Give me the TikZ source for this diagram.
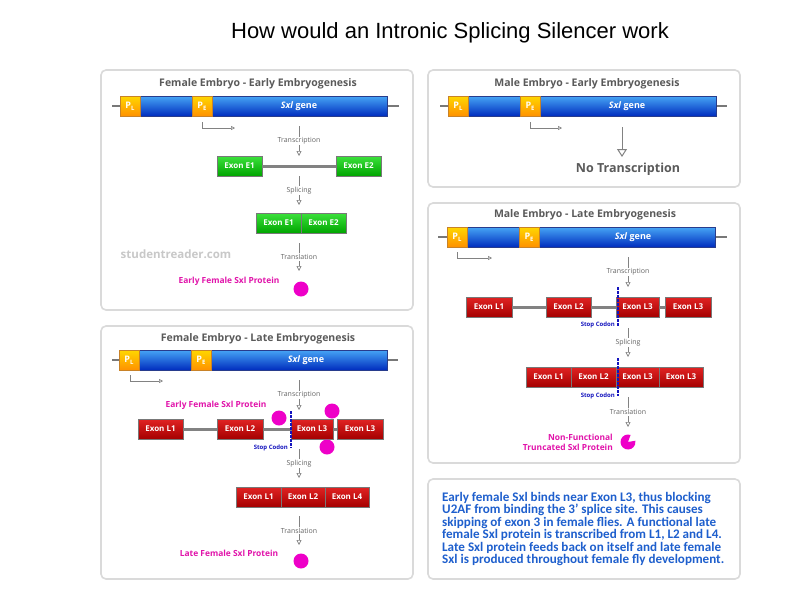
\documentclass[tikz,border=0pt]{standalone}
\usepackage{fontspec}
\setmainfont{Open Sans}
\newfontfamily\titlefont{Liberation Sans}
\newfontfamily\bodyfont{Carlito}
\usetikzlibrary{arrows.meta}
\definecolor{panelgray}{RGB}{218,218,218}
\definecolor{titlegray}{RGB}{90,90,90}
\definecolor{flowgray}{RGB}{130,130,130}
\definecolor{labgray}{RGB}{100,100,100}
\definecolor{bbgray}{RGB}{120,120,120}
\definecolor{intrgray}{RGB}{130,130,130}
\definecolor{barTop}{RGB}{70,165,245}
\definecolor{barBot}{RGB}{0,45,190}
\definecolor{barBorder}{RGB}{40,60,140}
\definecolor{yTop}{RGB}{255,215,0}
\definecolor{yBot}{RGB}{255,145,0}
\definecolor{yBorder}{RGB}{200,130,40}
\definecolor{gTop}{RGB}{60,225,60}
\definecolor{gBot}{RGB}{0,165,0}
\definecolor{rTop}{RGB}{225,35,35}
\definecolor{rBot}{RGB}{165,0,0}
\definecolor{exBorder}{RGB}{120,120,120}
\definecolor{prot}{RGB}{238,0,200}
\definecolor{protText}{RGB}{225,20,170}
\definecolor{stopblue}{RGB}{20,20,190}
\definecolor{wmgray}{RGB}{200,200,200}
\definecolor{bodyblue}{RGB}{30,95,205}
\begin{document}
\begin{tikzpicture}[x=1pt,y=-1pt,
  panel/.style={draw=panelgray, line width=1.6pt, rounded corners=5pt, fill=white},
  ptitle/.style={text=titlegray, font=\fontsize{10.5}{11}\selectfont\bfseries, inner sep=0pt},
  backbone/.style={draw=bbgray, line width=1.6pt},
  genebar/.style={draw=barBorder, line width=0.4pt, top color=barTop, bottom color=barBot, minimum height=20pt, inner sep=0pt},
  prombox/.style={draw=yBorder, line width=0.4pt, top color=yTop, bottom color=yBot, minimum width=20pt, minimum height=20pt, inner sep=0pt, text=white, font=\fontsize{9}{9}\selectfont\bfseries},
  genetext/.style={text=white, font=\fontsize{9}{9}\selectfont\bfseries, inner sep=0pt},
  promarrow/.style={draw=flowgray, line width=0.7pt, -{Triangle[open,length=4pt,width=4pt]}},
  flow/.style={draw=flowgray, line width=0.7pt, -{Triangle[open,length=5pt,width=5pt]}},
  bigflow/.style={draw=flowgray, line width=1pt, -{Triangle[open,length=8pt,width=10pt]}},
  lab/.style={fill=white, inner sep=1pt, text=labgray, font=\fontsize{7}{7}\selectfont},
  exon/.style={draw=exBorder, line width=0.5pt, minimum height=20pt, inner sep=0pt, text=white, font=\fontsize{8}{8}\selectfont\bfseries},
  gexon/.style={exon, top color=gTop, bottom color=gBot},
  rexon/.style={exon, top color=rTop, bottom color=rBot},
  intron/.style={draw=intrgray, line width=3pt},
  stopline/.style={draw=stopblue, line width=2.6pt, dash pattern=on 2.5pt off 1.5pt},
  stoptext/.style={text=stopblue, font=\fontsize{6}{6}\selectfont\bfseries, inner sep=0pt},
  protlab/.style={text=protText, font=\fontsize{8.4}{10}\selectfont\bfseries, inner sep=0pt},
  protein/.style={fill=prot, circle, minimum size=15pt, inner sep=0pt}
]
\useasboundingbox (0,0) rectangle (800,600);

% Title
\node[font=\titlefont\fontsize{22}{22}\selectfont, inner sep=0pt] (title) at (450,33) {How would an Intronic Splicing Silencer work};

% Panels
\draw[panel] (101,70) rectangle (413,310);
\draw[panel] (428,70) rectangle (740,187);
\draw[panel] (101,326) rectangle (413,579);
\draw[panel] (428,203) rectangle (740,463);
\draw[panel] (428,479) rectangle (740,579);

%% ---------- Panel 1: Female early
\node[ptitle] (t1) at (258,84) {Female Embryo - Early Embryogenesis};
\draw[backbone] (112,106) -- (399,106);
\node[genebar, minimum width=267pt] (g1) at (253.5,106) {};
\node[prombox] (pl1) at (130,106) {P\raisebox{-2pt}{\fontsize{6}{6}\selectfont L}};
\node[prombox] (pe1) at (202,106) {P\raisebox{-2pt}{\fontsize{6}{6}\selectfont E}};
\node[genetext] (gt1) at (299,106) {\textit{Sxl} gene};
\coordinate (pa1s) at (202,122);
\coordinate (pa1e) at (235,128);
\draw[promarrow] (pa1s) |- (pa1e);
\coordinate (f1a) at (299,126); \coordinate (f1b) at (299,156);
\draw[flow] (f1a) -- node[lab] (l1a) {Transcription} (f1b);
\node[gexon, minimum width=45pt] (e1) at (239.5,166) {Exon E1};
\node[gexon, minimum width=45pt] (e2) at (358.5,166) {Exon E2};
\draw[intron] (e1.east) -- (e2.west);
\coordinate (f2a) at (299,176); \coordinate (f2b) at (299,205);
\draw[flow] (f2a) -- node[lab] (l1b) {Splicing} (f2b);
\node[gexon, minimum width=45pt] (se1) at (278.5,223) {Exon E1};
\node[gexon, minimum width=45pt] (se2) at (323.5,223) {Exon E2};
\coordinate (f3a) at (299,243); \coordinate (f3b) at (299,271);
\draw[flow] (f3a) -- node[lab] (l1c) {Translation} (f3b);
\node[text=wmgray, font=\fontsize{11.5}{12}\selectfont\bfseries, inner sep=0pt] (wm) at (176,254) {studentreader.com};
\node[protlab] (pl1lab) at (229,281) {Early Female Sxl Protein};
\node[protein] (pr1) at (301,289) {};

%% ---------- Panel 2: Male early
\node[ptitle] (t2) at (587,84) {Male Embryo - Early Embryogenesis};
\draw[backbone] (440,106) -- (727,106);
\node[genebar, minimum width=268pt] (g2) at (582,106) {};
\node[prombox] (pl2) at (458,106) {P\raisebox{-2pt}{\fontsize{6}{6}\selectfont L}};
\node[prombox] (pe2) at (530,106) {P\raisebox{-2pt}{\fontsize{6}{6}\selectfont E}};
\node[genetext] (gt2) at (627,106) {\textit{Sxl} gene};
\coordinate (pa2s) at (530,122);
\coordinate (pa2e) at (562,128);
\draw[promarrow] (pa2s) |- (pa2e);
\coordinate (nt1) at (622,127);
\node[text=titlegray, font=\fontsize{12.5}{13}\selectfont\bfseries, inner sep=0pt] (notr) at (628,169) {No Transcription};
\coordinate (nt2) at (622,157);
\draw[bigflow] (nt1) -- (nt2);

%% ---------- Panel 3: Female late
\node[ptitle] (t3) at (258,339) {Female Embryo - Late Embryogenesis};
\draw[backbone] (112,360) -- (398,360);
\node[genebar, minimum width=268pt] (g3) at (253,360) {};
\node[prombox] (pl3) at (129,360) {P\raisebox{-2pt}{\fontsize{6}{6}\selectfont L}};
\node[prombox] (pe3) at (201,360) {P\raisebox{-2pt}{\fontsize{6}{6}\selectfont E}};
\node[genetext] (gt3) at (306,360) {\textit{Sxl} gene};
\coordinate (pa3s) at (130,375);
\coordinate (pa3e) at (163,381);
\draw[promarrow] (pa3s) |- (pa3e);
\coordinate (f4a) at (299,380); \coordinate (f4b) at (299,410);
\draw[flow] (f4a) -- node[lab] (l3a) {Transcription} (f4b);
\node[rexon, minimum width=45pt] (a1) at (160.5,429) {Exon L1};
\node[rexon, minimum width=46pt] (a2) at (240,429) {Exon L2};
\node[rexon, minimum width=42pt] (a3) at (312,429) {Exon L3};
\node[rexon, minimum width=46pt] (a4) at (360,429) {Exon L3};
\draw[intron] (a1.east) -- (a2.west);
\draw[intron] (a2.east) -- (a3.west);
\draw[intron] (a3.east) -- (a4.west);
\coordinate (sc1a) at (291,411); \coordinate (sc1b) at (291,448);
\draw[stopline] (sc1a) -- (sc1b);
\node[stoptext, anchor=east] (st1) at (288,448) {Stop Codon};
\node[protlab] (efp) at (216,405) {Early Female Sxl Protein};
\node[protein] (c1) at (279,418) {};
\node[protein] (c2) at (332,411) {};
\node[protein] (c3) at (327,447) {};
\coordinate (f5a) at (299,449); \coordinate (f5b) at (299,478);
\draw[flow] (f5a) -- node[lab] (l3b) {Splicing} (f5b);
\node[rexon, minimum width=45pt] (b1) at (258.5,497) {Exon L1};
\node[rexon, minimum width=44pt] (b2) at (303,497) {Exon L2};
\node[rexon, minimum width=44pt] (b3) at (347,497) {Exon L4};
\coordinate (f6a) at (299,516); \coordinate (f6b) at (299,545);
\draw[flow] (f6a) -- node[lab] (l3c) {Translation} (f6b);
\node[protlab] (lfp) at (229,553) {Late Female Sxl Protein};
\node[protein] (pr3) at (301,561) {};

%% ---------- Panel 4: Male late
\node[ptitle] (t4) at (585,215) {Male Embryo - Late Embryogenesis};
\draw[backbone] (438,237) -- (727,237);
\node[genebar, minimum width=268pt] (g4) at (581,237) {};
\node[prombox] (pl4) at (457,237) {P\raisebox{-2pt}{\fontsize{6}{6}\selectfont L}};
\node[prombox] (pe4) at (529,237) {P\raisebox{-2pt}{\fontsize{6}{6}\selectfont E}};
\node[genetext] (gt4) at (633,237) {\textit{Sxl} gene};
\coordinate (pa4s) at (457,252);
\coordinate (pa4e) at (492,258);
\draw[promarrow] (pa4s) |- (pa4e);
\coordinate (f7a) at (628,257); \coordinate (f7b) at (628,287);
\draw[flow] (f7a) -- node[lab] (l4a) {Transcription} (f7b);
\node[rexon, minimum width=46pt] (m1) at (489,307) {Exon L1};
\node[rexon, minimum width=45pt] (m2) at (568.5,307) {Exon L2};
\node[rexon, minimum width=43pt] (m3) at (637.5,307) {Exon L3};
\node[rexon, minimum width=46pt] (m4) at (688,307) {Exon L3};
\draw[intron] (m1.east) -- (m2.west);
\draw[intron] (m2.east) -- (m3.west);
\draw[intron] (m3.east) -- (m4.west);
\coordinate (sc2a) at (618,287); \coordinate (sc2b) at (618,327);
\draw[stopline] (sc2a) -- (sc2b);
\node[stoptext, anchor=east] (st2) at (615,325) {Stop Codon};
\coordinate (f8a) at (628,328); \coordinate (f8b) at (628,357);
\draw[flow] (f8a) -- node[lab] (l4b) {Splicing} (f8b);
\node[rexon, minimum width=45pt] (n1) at (548.5,377) {Exon L1};
\node[rexon, minimum width=45pt] (n2) at (593.5,377) {Exon L2};
\node[rexon, minimum width=43pt] (n3) at (637.5,377) {Exon L3};
\node[rexon, minimum width=44pt] (n4) at (681,377) {Exon L3};
\coordinate (sc3a) at (618,358); \coordinate (sc3b) at (618,396);
\draw[stopline] (sc3a) -- (sc3b);
\node[stoptext, anchor=east] (st3) at (615,396) {Stop Codon};
\coordinate (f9a) at (628,397); \coordinate (f9b) at (628,427);
\draw[flow] (f9a) -- node[lab] (l4c) {Translation} (f9b);
\node[protlab, align=right, anchor=east] (nfp) at (613,442) {Non-Functional\\Truncated Sxl Protein};
\coordinate (pac) at (628,442);
\fill[prot] (pac) -- ++(70:7.5pt) arc[start angle=70, end angle=370, radius=7.5pt] -- cycle;

%% ---------- Panel 5: text
\node[text=bodyblue, font=\bodyfont\bfseries\fontsize{13.1}{12.5}\selectfont, align=left, anchor=west, inner sep=0pt] (body) at (442,529) {Early female Sxl binds near Exon L3, thus blocking\\U2AF from binding the 3’ splice site. This causes\\skipping of exon 3 in female flies. A functional late\\female Sxl protein is transcribed from L1, L2 and L4.\\Late Sxl protein feeds back on itself and late female\\Sxl is produced throughout female fly development.};
\end{tikzpicture}
\end{document}
